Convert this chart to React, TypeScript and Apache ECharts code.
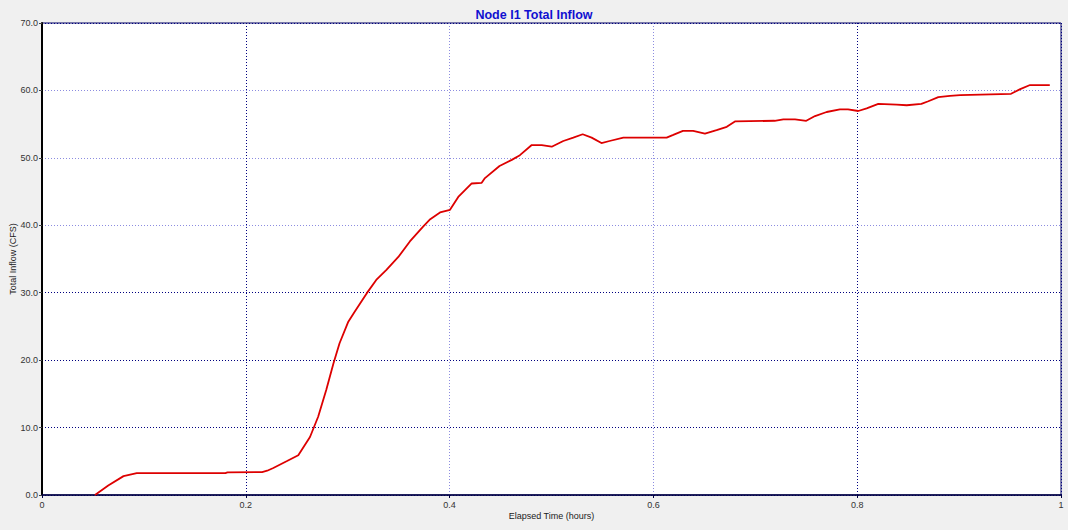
import React, { useEffect, useRef } from "react";
import * as echarts from "echarts";

const TITLE = "Node I1 Total Inflow";
const X_NAME = "Elapsed Time (hours)";
const Y_NAME = "Total Inflow (CFS)";

// Elapsed time (hours)
const times: number[] = [
  0.052, 0.065, 0.08, 0.093, 0.18, 0.182, 0.216, 0.221, 0.227, 0.24,
  0.2515, 0.263, 0.271, 0.279, 0.286, 0.292, 0.3006, 0.307, 0.3186, 0.328,
  0.338, 0.3497, 0.361, 0.374, 0.381, 0.3906, 0.4004, 0.4085, 0.4217, 0.4315,
  0.4347, 0.449, 0.461, 0.469, 0.4806, 0.4904, 0.5002, 0.5116, 0.5214, 0.5306,
  0.5394, 0.549, 0.557, 0.5705, 0.613, 0.6195, 0.629, 0.639, 0.6506, 0.662,
  0.672, 0.68, 0.719, 0.7275, 0.739, 0.75, 0.7586, 0.77, 0.783, 0.791,
  0.801, 0.8093, 0.8207, 0.8387, 0.8486, 0.863, 0.8698, 0.8796, 0.891, 0.901,
  0.951, 0.96, 0.9696, 0.989,
];

// Total inflow (CFS)
const inflow: number[] = [
  0, 1.4, 2.8, 3.25, 3.25, 3.35, 3.4, 3.6, 4.0, 5.0,
  5.9, 8.6, 11.6, 15.6, 19.5, 22.5, 25.7, 27.2, 29.9, 31.9,
  33.4, 35.3, 37.6, 39.8, 40.9, 41.9, 42.3, 44.2, 46.2, 46.3,
  47.0, 48.8, 49.7, 50.4, 51.9, 51.9, 51.65, 52.5, 53.0, 53.5,
  53.0, 52.2, 52.5, 53.0, 53.0, 53.4, 54.0, 54.0, 53.6, 54.1,
  54.6, 55.4, 55.5, 55.7, 55.7, 55.5, 56.2, 56.8, 57.2, 57.2,
  56.95, 57.35, 58.0, 57.9, 57.8, 58.0, 58.4, 59.0, 59.2, 59.3,
  59.5, 60.2, 60.8, 60.8,
];

const DARK = "#000080";
const LIGHT = "#8c8ce0";

export default function App() {
  const ref = useRef<HTMLDivElement>(null);

  useEffect(() => {
    document.body.style.margin = "0";
    document.body.style.background = "#f0f0f0";
    if (!ref.current) return;
    const chart = echarts.init(ref.current, undefined, { renderer: "svg" });
    const font = "'Liberation Sans', Arial, sans-serif";
    chart.setOption({
      animation: false,
      backgroundColor: "#f0f0f0",
      title: {
        text: TITLE,
        left: "center",
        top: 3,
        textStyle: { color: "#1010d0", fontSize: 12.5, fontWeight: "bold", fontFamily: font },
      },
      grid: {
        left: 42,
        right: 7,
        top: 23,
        bottom: 35,
        containLabel: false,
        outerBoundsMode: "none",
        show: true,
        backgroundColor: "#ffffff",
        borderColor: "#000060",
        borderWidth: 1,
      },
      xAxis: {
        type: "value",
        min: 0,
        max: 1,
        interval: 0.2,
        name: X_NAME,
        nameLocation: "middle",
        nameGap: 16,
        nameMoveOverlap: false,
        nameTextStyle: { color: "#222", fontSize: 9, fontFamily: font },
        axisLine: { show: true, onZero: false, lineStyle: { color: "#000040", width: 1.5 } },
        axisTick: { show: true, length: 3, lineStyle: { color: "#000040" } },
        axisLabel: {
          color: "#333",
          fontSize: 9,
          fontFamily: font,
          margin: 5,
          formatter: (v: number) => (v === 0 ? "0" : v === 1 ? "1" : v.toFixed(1)),
        },
        splitLine: {
          show: true,
          lineStyle: { color: [DARK, DARK, LIGHT, LIGHT, DARK, DARK], type: [1, 2], width: 1 },
        },
      },
      yAxis: {
        type: "value",
        min: 0,
        max: 70,
        interval: 10,
        name: Y_NAME,
        nameLocation: "middle",
        nameGap: 25,
        nameMoveOverlap: false,
        nameTextStyle: { color: "#222", fontSize: 9, fontFamily: font },
        axisLine: { show: true, lineStyle: { color: "#000000", width: 2 } },
        axisTick: { show: true, length: 3, lineStyle: { color: "#444" } },
        axisLabel: {
          color: "#333",
          fontSize: 9,
          fontFamily: font,
          margin: 4,
          formatter: (v: number) => v.toFixed(1),
        },
        splitLine: {
          show: true,
          lineStyle: {
            color: [DARK, DARK, DARK, DARK, LIGHT, LIGHT, LIGHT, DARK],
            type: [1, 2],
            width: 1,
          },
        },
      },
      series: [
        {
          type: "line",
          data: times.map((t, i) => [t, inflow[i]]),
          showSymbol: false,
          symbol: "none",
          lineStyle: { color: "#dd0000", width: 1.8 },
          itemStyle: { color: "#dd0000" },
        },
      ],
    });
    return () => chart.dispose();
  }, []);

  return <div ref={ref} style={{ width: 1068, height: 530 }} />;
}
